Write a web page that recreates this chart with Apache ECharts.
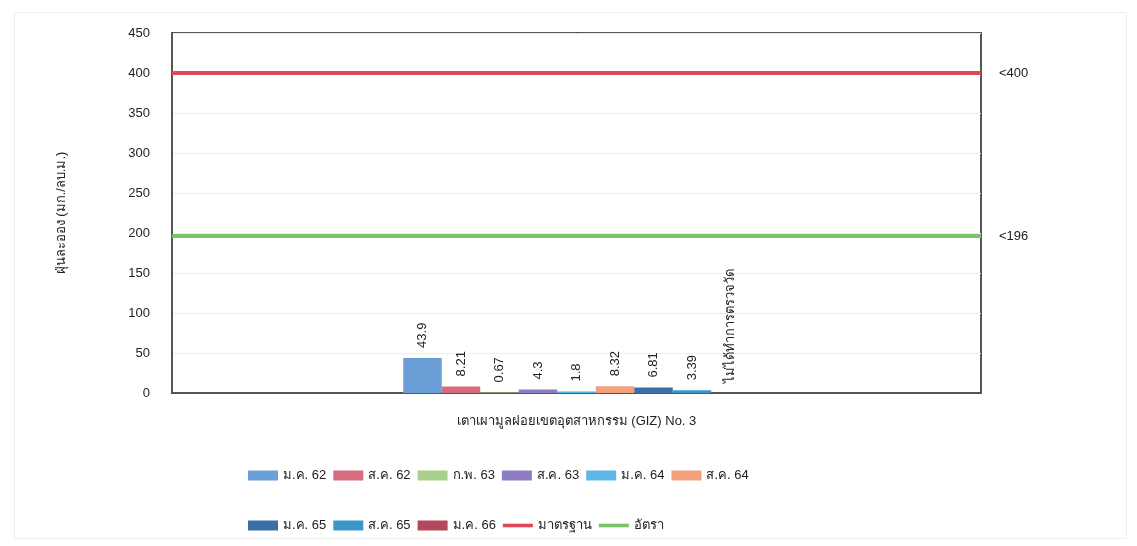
<!DOCTYPE html>
<html>
<head>
<meta charset="utf-8">
<script src="https://cdn.jsdelivr.net/npm/echarts@6/dist/echarts.min.js"></script>
<style>
html,body{margin:0;padding:0;background:#fff;}
#chart{width:1137px;height:546px;}
</style>
</head>
<body>
<div id="chart"></div>
<script>
// ---- data ----
const categories = ['เตาเผามูลฝอยเขตอุตสาหกรรม (GIZ) No. 3'];
const periods = ['ม.ค. 62', 'ส.ค. 62', 'ก.พ. 63', 'ส.ค. 63', 'ม.ค. 64', 'ส.ค. 64', 'ม.ค. 65', 'ส.ค. 65', 'ม.ค. 66'];
const dustValues = [43.9, 8.21, 0.67, 4.3, 1.8, 8.32, 6.81, 3.39, null];
const noDataText = 'ไม่ได้ทำการตรวจวัด';
const standardName = 'มาตรฐาน';
const standardValue = 400;
const standardLabel = '<400';
const rateName = 'อัตรา';
const rateValue = 196;
const rateLabel = '<196';
const yAxisName = 'ฝุ่นละออง (มก./ลบ.ม.)';
const yMin = 0, yMax = 450, yInterval = 50;

// ---- styles ----
const barColors = ['#6a9fd8', '#d66d7f', '#a8d08d', '#8d7cc3', '#5cb6e6', '#f3a07c', '#3b6fa6', '#3a98c8', '#b4485c'];
const standardColor = '#e04858';
const rateColor = '#7cc46c';
const FONT = '"Liberation Sans", Tahoma, "Noto Sans", sans-serif';
const LINE_ICON = 'path://M0,0H33V4H0Z';

const chart = echarts.init(document.getElementById('chart'), null, {renderer: 'canvas'});

const barSeries = periods.map((p, i) => {
  const v = dustValues[i];
  return {
    name: p,
    type: 'bar',
    barWidth: 38.5,
    barGap: '0%',
    itemStyle: {color: barColors[i]},
    label: {
      show: true,
      position: 'top',
      rotate: 90,
      align: 'left',
      verticalAlign: 'middle',
      distance: 10,
      fontFamily: FONT,
      fontSize: 13,
      color: '#222',
      formatter: () => (v === null ? noDataText : String(v))
    },
    data: [v === null ? 0 : v]
  };
});

const lineSeries = [
  {name: standardName, color: standardColor, value: standardValue, label: standardLabel},
  {name: rateName, color: rateColor, value: rateValue, label: rateLabel}
].map(s => ({
  name: s.name,
  type: 'line',
  symbol: 'none',
  showSymbol: false,
  color: s.color,
  lineStyle: {color: s.color, width: 4},
  data: [s.value],
  markLine: {
    silent: true,
    symbol: 'none',
    lineStyle: {color: s.color, width: 4, type: 'solid'},
    label: {
      show: true,
      position: 'end',
      distance: 18,
      formatter: s.label,
      fontFamily: FONT,
      fontSize: 13,
      color: '#222'
    },
    data: [{yAxis: s.value}]
  }
}));

const legendCommon = {
  orient: 'horizontal',
  left: 243,
  itemWidth: 30,
  itemHeight: 10,
  itemGap: 7,
  textStyle: {fontFamily: FONT, fontSize: 13, color: '#222', width: 46},
  selectedMode: false
};

const row1 = periods.slice(0, 6).map(n => ({name: n, icon: 'rect'}));
const row2 = periods.slice(6).map(n => ({name: n, icon: 'rect'})).concat([
  {name: standardName, icon: LINE_ICON, itemStyle: {color: standardColor}},
  {name: rateName, icon: LINE_ICON, itemStyle: {color: rateColor}}
]);

chart.setOption({
  animation: false,
  backgroundColor: '#fff',
  textStyle: {fontFamily: FONT},
  graphic: [{
    type: 'rect',
    left: 12, top: 10,
    shape: {width: 1112, height: 526},
    style: {fill: 'none', stroke: '#eeeeee', lineWidth: 1},
    silent: true
  }],
  grid: {
    left: 172, right: 156, top: 33, bottom: 153,
    show: true,
    borderColor: '#555',
    borderWidth: 2,
    containLabel: false
  },
  legend: [
    Object.assign({}, legendCommon, {top: 464, data: row1}),
    Object.assign({}, legendCommon, {top: 514, data: row2})
  ],
  xAxis: {
    type: 'category',
    data: categories,
    axisTick: {show: false},
    axisLine: {show: true, lineStyle: {color: '#555', width: 2}},
    axisLabel: {margin: 22, fontFamily: FONT, fontSize: 13, color: '#222'}
  },
  yAxis: {
    type: 'value',
    min: yMin, max: yMax, interval: yInterval,
    name: yAxisName,
    nameLocation: 'middle',
    nameGap: 104,
    nameRotate: 90,
    nameTextStyle: {fontFamily: FONT, fontSize: 13, color: '#222'},
    axisLine: {show: true, lineStyle: {color: '#555', width: 2}},
    axisTick: {show: false},
    axisLabel: {margin: 22, fontFamily: FONT, fontSize: 13, color: '#222'},
    splitLine: {show: true, lineStyle: {color: '#eeeeee', width: 1}}
  },
  series: barSeries.concat(lineSeries)
});
</script>
</body>
</html>
